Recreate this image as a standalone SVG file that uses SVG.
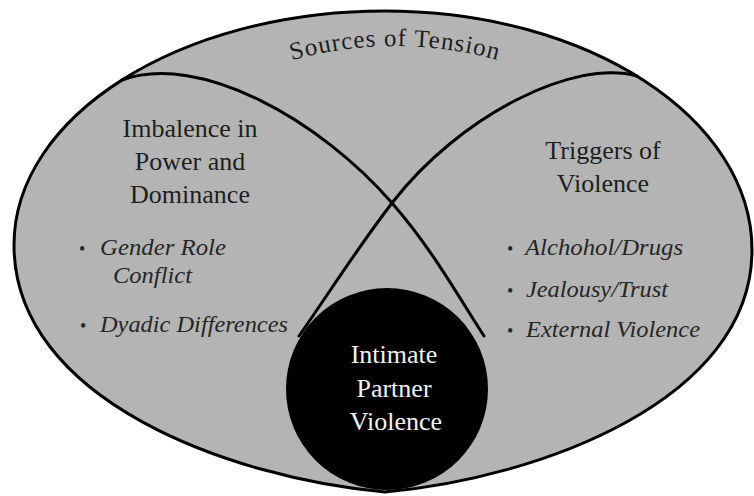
<svg xmlns="http://www.w3.org/2000/svg" width="754" height="496" viewBox="0 0 754 496">
  <style>
    .line { fill: none; stroke: #000; stroke-width: 3; stroke-linecap: round; }
    .head { font-family: "Liberation Serif", "Times New Roman", serif; font-size: 26px; fill: #1e1e1e; text-anchor: middle; }
    .item { font-family: "Liberation Serif", "Times New Roman", serif; font-size: 24px; font-style: italic; fill: #262626; }
    .bullet { font-family: "Liberation Serif", "Times New Roman", serif; font-size: 18px; fill: #262626; }
    .ipv { font-family: "Liberation Serif", "Times New Roman", serif; font-size: 26px; fill: #f2f2f2; text-anchor: middle; }
  </style>
  <defs>
    <path id="arc" d="M245,76.9 A380,380 0 0,1 545,76.9"/>
  </defs>
  <rect width="754" height="496" fill="#ffffff"/>
  <g id="sources">
    <path d="M385,11 C588,11 752,118 752,250 C752,400 540,478 385,492 C230,478 14,400 14,245 C14,116 180,11 385,11 Z" fill="#b4b4b4" stroke="#000" stroke-width="3"/>
    <text style="font-family:'Liberation Serif','Times New Roman',serif;font-size:25px;fill:#1e1e1e;letter-spacing:1px" text-anchor="middle"><textPath href="#arc" startOffset="50%">Sources of Tension</textPath></text>
  </g>
  <g id="connectors">
    <path class="line" d="M122,80 C200,52 320,120 392,203 C432,249 455,291 484,336"/>
    <path class="line" d="M637,76 C575,58 460,115 392,203 C356,250 327,296 299,336"/>
  </g>
  <g id="imbalance">
    <text class="head" x="190" y="137">Imbalence in</text>
    <text class="head" x="190" y="170">Power and</text>
    <text class="head" x="190" y="203">Dominance</text>
    <text class="bullet" x="79" y="255">•</text>
    <text class="item" x="100" y="255" textLength="126" lengthAdjust="spacingAndGlyphs">Gender Role</text>
    <text class="item" x="113" y="283" textLength="79" lengthAdjust="spacingAndGlyphs">Conflict</text>
    <text class="bullet" x="80" y="332">•</text>
    <text class="item" x="100" y="332" textLength="188" lengthAdjust="spacingAndGlyphs">Dyadic Differences</text>
  </g>
  <g id="triggers">
    <text class="head" x="603" y="159">Triggers of</text>
    <text class="head" x="603" y="192">Violence</text>
    <text class="bullet" x="507" y="255">•</text>
    <text class="item" x="525" y="255" textLength="158" lengthAdjust="spacingAndGlyphs">Alchohol/Drugs</text>
    <text class="bullet" x="507" y="297">•</text>
    <text class="item" x="526" y="297" textLength="142" lengthAdjust="spacingAndGlyphs">Jealousy/Trust</text>
    <text class="bullet" x="507" y="337">•</text>
    <text class="item" x="526" y="337" textLength="174" lengthAdjust="spacingAndGlyphs">External Violence</text>
  </g>
  <g id="ipv-node">
    <circle cx="387" cy="389" r="101" fill="#000"/>
    <text class="ipv" x="394" y="363">Intimate</text>
    <text class="ipv" x="394" y="397">Partner</text>
    <text class="ipv" x="396" y="430">Violence</text>
  </g>
</svg>
